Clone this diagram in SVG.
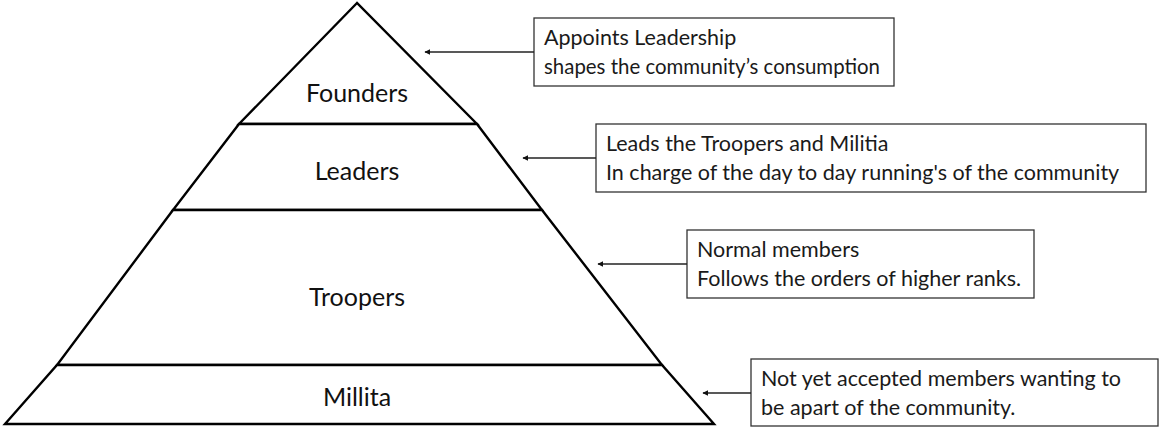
<svg xmlns="http://www.w3.org/2000/svg" width="1169" height="428" viewBox="0 0 1169 428">
  <style>
    .tier { fill: #ffffff; stroke: #000000; stroke-width: 2.4; stroke-linejoin: miter; }
    .tier-label { font-family: Lato, "Liberation Sans", sans-serif; font-size: 25px; fill: #111111; text-anchor: middle; }
    .note { fill: #ffffff; stroke: #333333; stroke-width: 1.3; }
    .note-text { font-family: Lato, "Liberation Sans", sans-serif; font-size: 21.5px; fill: #1a1a1a; }
    .link { stroke: #222222; stroke-width: 1.3; fill: none; marker-end: url(#head); }
  </style>
  <defs>
    <marker id="head" viewBox="0 0 10 10" refX="9" refY="5" markerWidth="6" markerHeight="6" markerUnits="userSpaceOnUse" orient="auto">
      <path d="M0,0 L10,5 L0,10 z" fill="#111111"/>
    </marker>
  </defs>
  <rect width="1169" height="428" fill="#ffffff"/>

  <!-- pyramid tiers, top to bottom -->
  <g id="founders">
    <polygon class="tier" points="357,3 239,124 477,124"/>
    <text class="tier-label" x="357" y="102">Founders</text>
  </g>
  <g id="leaders">
    <polygon class="tier" points="239,124 477,124 542,210 173,210"/>
    <text class="tier-label" x="357" y="180">Leaders</text>
  </g>
  <g id="troopers">
    <polygon class="tier" points="173,210 542,210 662,365 57,365"/>
    <text class="tier-label" x="357" y="306">Troopers</text>
  </g>
  <g id="millita">
    <polygon class="tier" points="57,365 662,365 714,424 5,424"/>
    <text class="tier-label" x="357" y="406">Millita</text>
  </g>

  <!-- description boxes -->
  <g id="note-founders">
    <rect class="note" x="534" y="18" width="360" height="68"/>
    <text class="note-text" x="544" y="45">Appoints Leadership</text>
    <text class="note-text" x="544" y="74" textLength="336" lengthAdjust="spacingAndGlyphs">shapes the community’s consumption</text>
  </g>
  <g id="note-leaders">
    <rect class="note" x="596" y="124" width="550" height="68"/>
    <text class="note-text" x="606" y="151">Leads the Troopers and Militia</text>
    <text class="note-text" x="606" y="180">In charge of the day to day running's of the community</text>
  </g>
  <g id="note-troopers">
    <rect class="note" x="687" y="230" width="347" height="68"/>
    <text class="note-text" x="697" y="257">Normal members</text>
    <text class="note-text" x="697" y="286">Follows the orders of higher ranks.</text>
  </g>
  <g id="note-millita">
    <rect class="note" x="751" y="359" width="407" height="67"/>
    <text class="note-text" x="761" y="386">Not yet accepted members wanting to</text>
    <text class="note-text" x="761" y="415">be apart of the community.</text>
  </g>

  <!-- pointers from each box to its tier -->
  <g id="connectors">
    <line class="link" x1="534" y1="52" x2="425" y2="52"/>
    <line class="link" x1="596" y1="158" x2="523" y2="158"/>
    <line class="link" x1="687" y1="264" x2="598" y2="264"/>
    <line class="link" x1="751" y1="393" x2="703" y2="393"/>
  </g>
</svg>
